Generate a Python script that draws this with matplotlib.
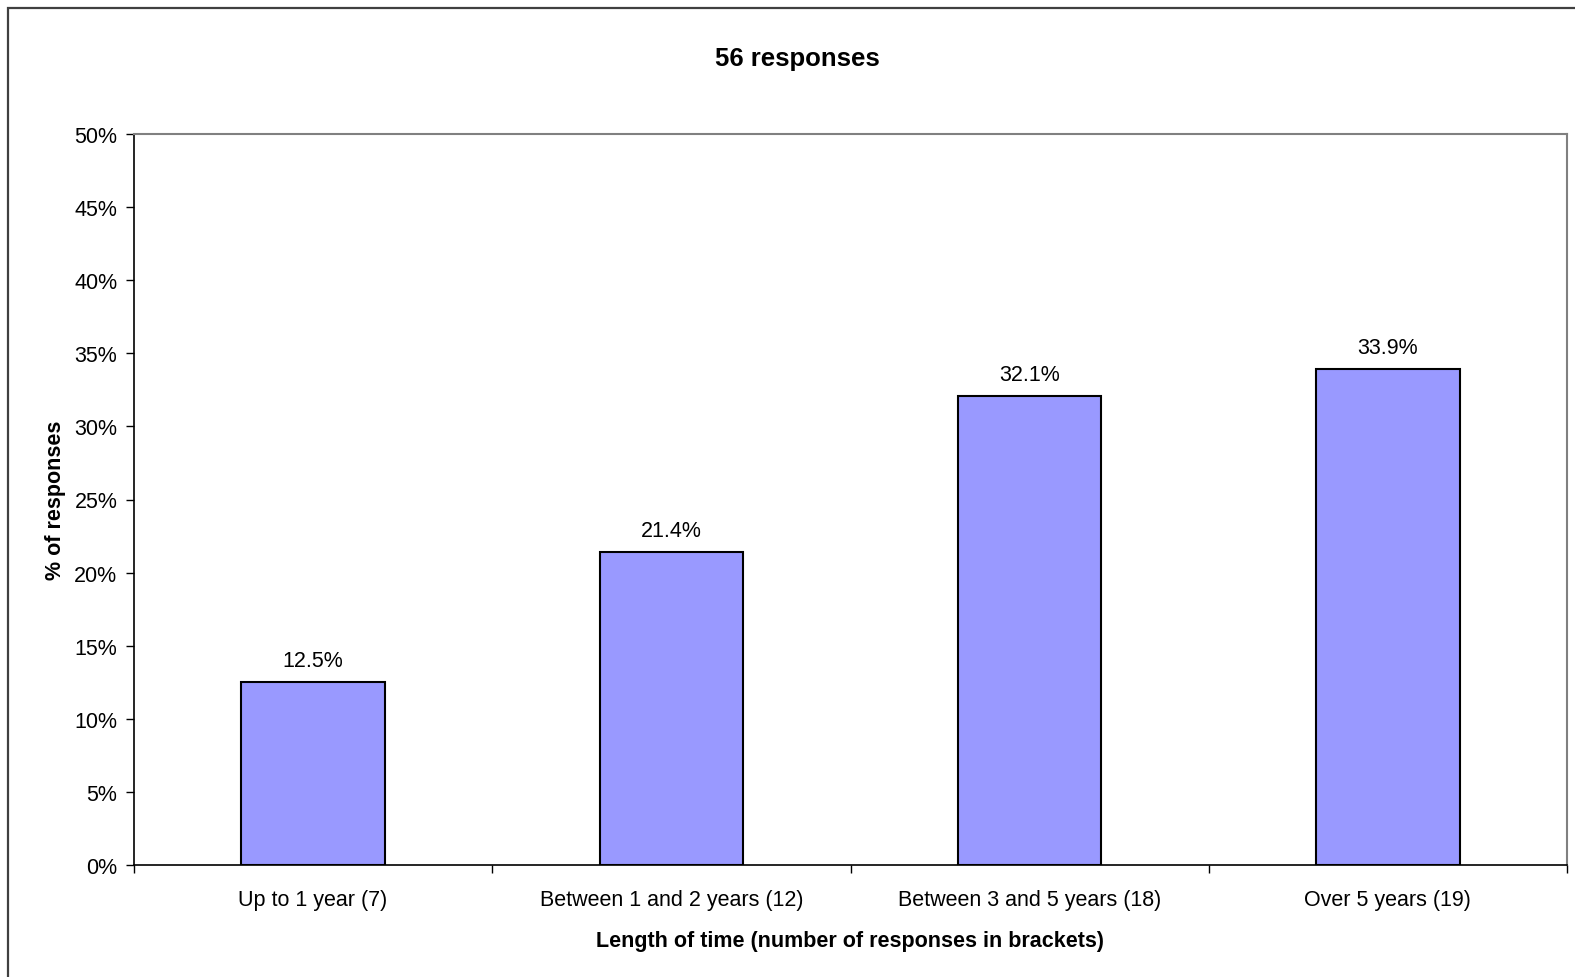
"""Bar chart: length of time, share of the 56 survey responses."""

import matplotlib

matplotlib.use("Agg")
import matplotlib.pyplot as plt
from matplotlib.patches import Rectangle
from matplotlib.ticker import FuncFormatter, MultipleLocator

plt.rcParams["font.family"] = ["Liberation Sans", "DejaVu Sans"]

categories = [
    "Up to 1 year (7)",
    "Between 1 and 2 years (12)",
    "Between 3 and 5 years (18)",
    "Over 5 years (19)",
]
shares = [12.5, 21.4, 32.1, 33.9]

_BAR = "#9999FF"
_W, _H = 1575, 978
_FS = 15.5

fig = plt.figure(figsize=(_W / 100, _H / 100), dpi=100)
ax = fig.add_axes((134 / _W, 1 - 866 / _H, (1567 - 134) / _W, (866 - 135) / _H))

# chart-area frame (runs off the right and bottom edges)
fig.patches.append(
    Rectangle((8 / _W, -0.1), 1.2, 1 - 9 / _H + 0.1, transform=fig.transFigure,
              fill=False, edgecolor="#404040", lw=1.6, zorder=0)
)

positions = range(len(categories))
ax.bar(positions, shares, width=0.4, color=_BAR, edgecolor="black", lw=1.5, zorder=3)
for x, v in zip(positions, shares):
    ax.annotate(f"{v:.1f}%", (x, v), xytext=(0, 8), textcoords="offset points",
                ha="center", va="bottom", fontsize=_FS)

ax.set_xlim(-0.5, len(categories) - 0.5)
ax.set_ylim(0, 50)
ax.yaxis.set_major_locator(MultipleLocator(5))
ax.yaxis.set_major_formatter(FuncFormatter(lambda v, _: f"{v:.0f}%"))
ax.set_xticks(list(positions))
ax.set_xticklabels(categories, fontsize=_FS)
ax.set_xticks([i - 0.5 for i in range(len(categories) + 1)], minor=True)
ax.tick_params(axis="x", which="major", length=0, pad=17)
ax.tick_params(axis="x", which="minor", length=6, width=1, direction="out")
ax.tick_params(axis="y", length=6, width=1, direction="out", labelsize=_FS, pad=6)

for side in ("top", "right"):
    ax.spines[side].set_color("#808080")
    ax.spines[side].set_linewidth(1.5)
for side in ("left", "bottom"):
    ax.spines[side].set_color("black")
    ax.spines[side].set_linewidth(1.2)

ax.set_xlabel("Length of time (number of responses in brackets)", fontsize=_FS,
              fontweight="bold", labelpad=15)
ax.set_ylabel("% of responses", fontsize=_FS, fontweight="bold", labelpad=6)
fig.text(797 / _W, 1 - 59 / _H, "56 responses", ha="center", va="center",
         fontsize=18.5, fontweight="bold")

fig.savefig("out.png", dpi=100)
